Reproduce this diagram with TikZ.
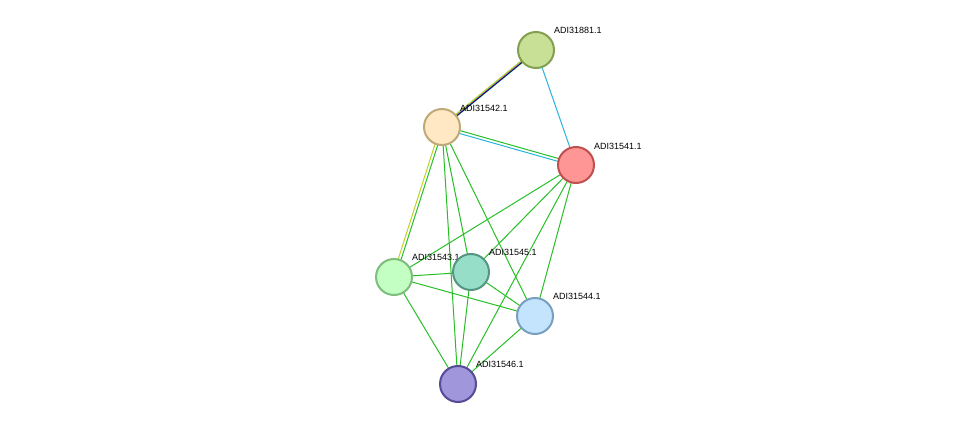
\documentclass[tikz,border=0pt]{standalone}
\usepackage{fontspec}
\setmainfont{Liberation Sans}
\begin{document}
\begin{tikzpicture}[x=1pt,y=-1pt,
  e/.style={draw=green!70!black!80!green, line width=1pt, color={rgb,255:red,40;green,190;blue,40}},
  nd/.style={circle, minimum size=36pt, inner sep=0pt, line width=2pt},
  lb/.style={font=\fontsize{9}{10}\selectfont, anchor=south west, inner sep=0pt}]
\useasboundingbox (0,0) rectangle (975,430);
\definecolor{eg}{RGB}{40,190,40}
\definecolor{ec}{RGB}{40,180,220}
\definecolor{ey}{RGB}{190,210,40}
\coordinate (a881) at (536,50);
\coordinate (a542) at (442,127);
\coordinate (a541) at (576,165);
\coordinate (a543) at (394,277);
\coordinate (a545) at (471,272);
\coordinate (a544) at (535,316);
\coordinate (a546) at (458,384);
% multi edge
\foreach \c/\o in {eg/-5,blue/-3,black/-1,magenta/1,ec/3,ey/5}
  \draw[\c, line width=1pt, transform canvas={shift={(\o*0.63pt,\o*0.77pt)}}] (a542) -- (a881);
\draw[ec, line width=1pt] (a881) -- (a541);
\draw[ec, line width=1pt, transform canvas={shift={(0,-1.5pt)}}] (a542) -- (a541);
\draw[eg, line width=1pt, transform canvas={shift={(0,1.5pt)}}] (a542) -- (a541);
\draw[ey, line width=1pt, transform canvas={shift={(-1.5pt,0)}}] (a542) -- (a543);
\draw[eg, line width=1pt, transform canvas={shift={(1.5pt,0)}}] (a542) -- (a543);
\foreach \a/\b in {542/546,542/545,542/544,541/543,541/545,541/546,541/544,543/545,543/544,543/546,545/544,545/546,544/546}
  \draw[eg, line width=1pt] (a\a) -- (a\b);
% labels
\node[lb] (l881) at (554,34) {ADI31881.1};
\node[lb] (l542) at (460,112) {ADI31542.1};
\node[lb] (l541) at (594,150) {ADI31541.1};
\node[lb] (l543) at (412,261) {ADI31543.1};
\node[lb] (l545) at (489,256) {ADI31545.1};
\node[lb] (l544) at (553,300) {ADI31544.1};
\node[lb] (l546) at (476,368) {ADI31546.1};
% nodes
\node[nd, draw={rgb,255:red,130;green,160;blue,80}, fill={rgb,255:red,200;green,224;blue,150}] (n881) at (a881) {};
\node[nd, draw={rgb,255:red,190;green,170;blue,120}, fill={rgb,255:red,255;green,232;blue,195}] (n542) at (a542) {};
\node[nd, draw={rgb,255:red,190;green,80;blue,80}, fill={rgb,255:red,255;green,150;blue,150}] (n541) at (a541) {};
\node[nd, draw={rgb,255:red,125;green,190;blue,125}, fill={rgb,255:red,195;green,255;blue,195}] (n543) at (a543) {};
\node[nd, draw={rgb,255:red,85;green,150;blue,130}, fill={rgb,255:red,150;green,222;blue,200}] (n545) at (a545) {};
\node[nd, draw={rgb,255:red,120;green,160;blue,190}, fill={rgb,255:red,195;green,228;blue,252}] (n544) at (a544) {};
\node[nd, draw={rgb,255:red,85;green,75;blue,150}, fill={rgb,255:red,160;green,150;blue,220}] (n546) at (a546) {};
\end{tikzpicture}
\end{document}
